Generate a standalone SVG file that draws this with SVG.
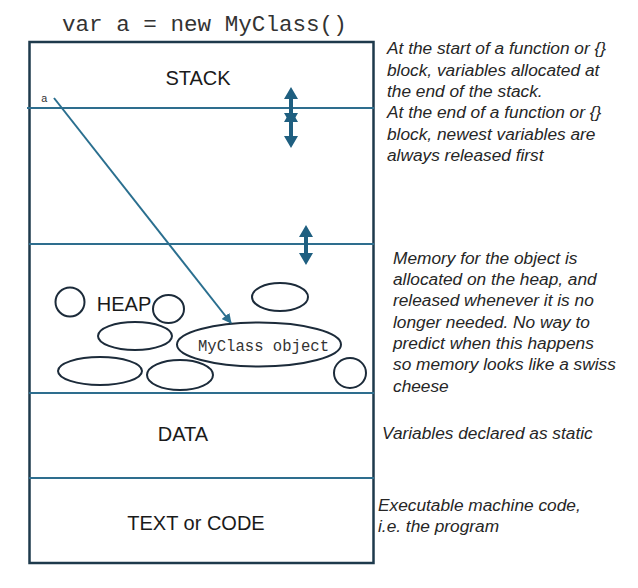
<svg xmlns="http://www.w3.org/2000/svg" width="638" height="588" viewBox="0 0 638 588">
<defs>
<style>
.sec{font-family:"Liberation Sans",Arial,sans-serif;font-size:20px;fill:#1a1a1a;text-anchor:middle}
.note{font-family:"Liberation Sans",Arial,sans-serif;font-style:italic;font-size:17.3px;fill:#262626}
.mono{font-family:"Liberation Mono","Courier New",monospace;fill:#333}
.div{stroke:#2e6e8e;stroke-width:2;fill:none}
.blob{stroke:#1c2b3a;stroke-width:2;fill:none}
.dbl{fill:#1f5f80}
</style>
<marker id="ah" markerWidth="10" markerHeight="10" refX="9" refY="5" orient="auto" markerUnits="userSpaceOnUse">
<path d="M0,0 L10,5 L0,10 z" fill="#2a6f8f"/>
</marker>
</defs>
<rect width="638" height="588" fill="#ffffff"/>
<text class="mono" x="62" y="31" font-size="22.6">var a = new MyClass()</text>
<g id="memory">
<rect x="29.5" y="42" width="344" height="521" fill="none" stroke="#1e3a4c" stroke-width="2.5"/>
</g>
<g id="dividers">
<line class="div" x1="27" y1="108" x2="374" y2="108"/>
<line class="div" x1="29" y1="244" x2="374" y2="244"/>
<line class="div" x1="29" y1="393" x2="374" y2="393"/>
<line class="div" x1="29" y1="478" x2="374" y2="478"/>
</g>
<g id="stack">
<text class="sec" x="198" y="85" font-size="19">STACK</text>
<text class="mono" x="41" y="102" font-size="11">a</text>
</g>
<g id="heap">
<text class="sec" x="124" y="311" font-size="20">HEAP</text>
<circle class="blob" cx="70" cy="302" r="14.5"/>
<ellipse class="blob" cx="168.5" cy="309" rx="15.5" ry="14"/>
<ellipse class="blob" cx="280" cy="297" rx="28" ry="14"/>
<ellipse class="blob" cx="135" cy="336" rx="37" ry="14"/>
<ellipse class="blob" cx="100" cy="371" rx="42" ry="14"/>
<ellipse class="blob" cx="180" cy="375" rx="33" ry="15"/>
<ellipse class="blob" cx="350" cy="373" rx="16" ry="15"/>
</g>
<g id="myclass-object">
<ellipse class="blob" cx="259" cy="344.5" rx="82" ry="22"/>
<text class="mono" x="263.5" y="351" font-size="15.6" text-anchor="middle">MyClass object</text>
</g>
<g id="data">
<text class="sec" x="183" y="441">DATA</text>
</g>
<g id="text-code">
<text class="sec" x="196" y="530">TEXT or CODE</text>
</g>
<g id="connectors">
<line x1="54" y1="98" x2="231" y2="323" stroke="#2a6f8f" stroke-width="2" marker-end="url(#ah)"/>
<polygon class="dbl" points="291,87 298,99 293,99 293,113 298,113 291,125 284,113 289,113 289,99 284,99"/>
<polygon class="dbl" points="291,110 298,122 293,122 293,136 298,136 291,148 284,136 289,136 289,122 284,122"/>
<polygon class="dbl" points="306,225 313,237 308,237 308,253 313,253 306,265 299,253 304,253 304,237 299,237"/>
</g>
<g id="notes">
<text class="note" x="387" y="54">At the start of a function or {}</text>
<text class="note" x="387" y="76">block, variables allocated at</text>
<text class="note" x="387" y="97">the end of the stack.</text>
<text class="note" x="387" y="118">At the end of a function or {}</text>
<text class="note" x="387" y="140">block, newest variables are</text>
<text class="note" x="387" y="161">always released first</text>
<text class="note" x="393" y="264">Memory for the object is</text>
<text class="note" x="393" y="285">allocated on the heap, and</text>
<text class="note" x="393" y="306">released whenever it is no</text>
<text class="note" x="393" y="328">longer needed. No way to</text>
<text class="note" x="393" y="349">predict when this happens</text>
<text class="note" x="393" y="370">so memory looks like a swiss</text>
<text class="note" x="393" y="392">cheese</text>
<text class="note" x="382" y="439">Variables declared as static</text>
<text class="note" x="378" y="511">Executable machine code,</text>
<text class="note" x="378" y="532">i.e. the program</text>
</g>
</svg>
